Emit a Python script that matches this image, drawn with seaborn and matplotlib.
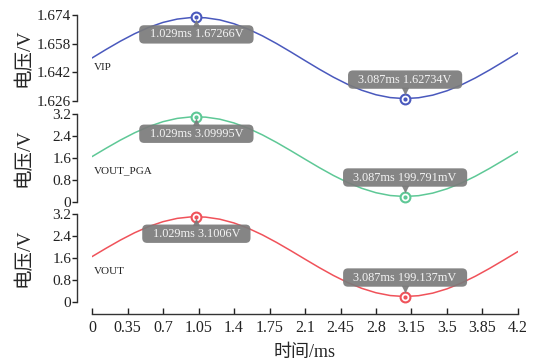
import numpy as np
import pandas as pd
import matplotlib
matplotlib.use("Agg")
import matplotlib.pyplot as plt
from matplotlib.transforms import ScaledTranslation
from matplotlib.patches import BoxStyle
import seaborn as sns

# ---- data ----
t_ms = [0.00, 0.14, 0.28, 0.42, 0.56, 0.70, 0.84, 0.98, 1.12, 1.26, 1.40,
        1.54, 1.68, 1.82, 1.96, 2.10, 2.24, 2.38, 2.52, 2.66, 2.80, 2.94,
        3.08, 3.22, 3.36, 3.50, 3.64, 3.78, 3.92, 4.06, 4.20]
vip = [1.65000, 1.65481, 1.65939, 1.66355, 1.66710, 1.66986, 1.67172, 1.67260,
       1.67244, 1.67127, 1.66912, 1.66611, 1.66236, 1.65805, 1.65338, 1.64855,
       1.64379, 1.63930, 1.63531, 1.63199, 1.62948, 1.62791, 1.62734, 1.62781,
       1.62928, 1.63170, 1.63495, 1.63888, 1.64332, 1.64806, 1.65290]
vout_pga = [1.650, 1.957, 2.251, 2.517, 2.744, 2.921, 3.040, 3.096, 3.086, 3.011,
            2.874, 2.681, 2.441, 2.165, 1.866, 1.557, 1.252, 0.965, 0.710, 0.497,
            0.337, 0.236, 0.200, 0.230, 0.324, 0.479, 0.686, 0.938, 1.222, 1.526,
            1.835]
vout = [1.650, 1.957, 2.251, 2.518, 2.745, 2.921, 3.041, 3.097, 3.087, 3.011,
        2.874, 2.681, 2.441, 2.165, 1.866, 1.557, 1.252, 0.965, 0.709, 0.496,
        0.336, 0.235, 0.199, 0.229, 0.323, 0.478, 0.686, 0.938, 1.222, 1.526,
        1.836]

peak_t = [1.029, 3.087]
vip_peaks = [1.67266, 1.62734]
pga_peaks = [3.09995, 0.199791]
vout_peaks = [3.1006, 0.199137]
peak_labels_vip = ["1.029ms 1.67266V", "3.087ms 1.62734V"]
peak_labels_pga = ["1.029ms 3.09995V", "3.087ms 199.791mV"]
peak_labels_vout = ["1.029ms 3.1006V", "3.087ms 199.137mV"]

series_names = ["VIP", "VOUT_PGA", "VOUT"]
x_ticks = [0, 0.35, 0.7, 1.05, 1.4, 1.75, 2.1, 2.45, 2.8, 3.15, 3.5, 3.85, 4.2]
x_tick_labels = ["0", "0.35", "0.7", "1.05", "1.4", "1.75", "2.1", "2.45",
                 "2.8", "3.15", "3.5", "3.85", "4.2"]
y_ticks_vip = [1.626, 1.642, 1.658, 1.674]
y_ticks_v = [0, 0.8, 1.6, 2.4, 3.2]
y_tick_labels_v = ["0", "0.8", "1.6", "2.4", "3.2"]

# ---- style ----
sns.set_style("ticks")
plt.rcParams['font.family'] = ['Liberation Serif', 'Noto Sans CJK SC']
plt.rcParams['axes.unicode_minus'] = False

PX = 72 / 100  # points per pixel at dpi 100


def tip_box(x0, y0, width, height, mutation_size):
    """Rounded box with wider horizontal than vertical padding."""
    ph, pv = 0.85 * mutation_size, 0.26 * mutation_size
    return BoxStyle.Round(pad=0, rounding_size=0.4)(
        x0 - ph, y0 - pv, width + 2 * ph, height + 2 * pv, mutation_size)


fig = plt.figure(figsize=(5.44, 3.62), dpi=100)
left, width = 92 / 544, 426 / 544
boxes = [(15, 101), (114, 202), (214, 302)]
axes = []
for top, bot in boxes:
    axes.append(fig.add_axes([left, 1 - bot / 362, width, (bot - top) / 362]))

colors = ["#4a59bd", "#5ec896", "#f0525a"]
ys = [vip, vout_pga, vout]
peaks = [vip_peaks, pga_peaks, vout_peaks]
plabels = [peak_labels_vip, peak_labels_pga, peak_labels_vout]
ylims = [(1.626, 1.674), (0, 3.2), (0, 3.2)]
name_y = [0.384, 0.35, 0.35]
box_gray = "#7b7b7b"

for i, ax in enumerate(axes):
    df = pd.DataFrame({"t": t_ms, "v": ys[i]})
    sns.lineplot(data=df, x="t", y="v", ax=ax, color=colors[i], linewidth=1.1)
    pk = pd.DataFrame({"t": peak_t, "v": peaks[i]})
    sns.scatterplot(data=pk, x="t", y="v", ax=ax, s=50, facecolor="white",
                    edgecolor=colors[i], linewidth=1.5, zorder=5, clip_on=False)
    sns.scatterplot(data=pk, x="t", y="v", ax=ax, s=9, color=colors[i],
                    edgecolor=colors[i], linewidth=0, zorder=6, clip_on=False)
    # annotation boxes
    for j, (tt, vv) in enumerate(zip(peak_t, peaks[i])):
        dy = -17 if j == 0 else 19
        ax.annotate(plabels[i][j], xy=(tt, vv), xytext=(0, dy),
                    textcoords="offset pixels", ha="center", va="center",
                    fontsize=8.8, color="#f4f4f4", zorder=8,
                    bbox=dict(boxstyle=tip_box, fc=box_gray, ec="none",
                              alpha=0.92))
        tri_dy = -5.5 if j == 0 else 7.5
        tr = ax.transData + ScaledTranslation(0, tri_dy / 100, fig.dpi_scale_trans)
        ax.scatter([tt], [vv], marker="^" if j == 0 else "v", s=30,
                   color=box_gray, alpha=0.92, linewidths=0, transform=tr,
                   zorder=7, clip_on=False)
    ax.text(0.005, name_y[i], series_names[i], transform=ax.transAxes,
            ha="left", va="center", fontsize=8, color="#222222")

    ax.set_xlim(0, 4.2)
    ax.set_ylim(*ylims[i])
    ax.set_xlabel("")
    ax.set_ylabel("电压/V", fontsize=14)
    ax.yaxis.set_label_coords(-0.1385, 0.5)
    for sp in ["top", "right"]:
        ax.spines[sp].set_visible(False)
    ax.spines["left"].set_position(("outward", 15 * PX))
    ax.tick_params(axis="y", direction="out", length=5 * PX, width=1,
                   labelsize=11, pad=0.5, colors="#222222")
    if i == 0:
        ax.set_yticks(y_ticks_vip)
        ax.set_yticklabels([f"{v:.3f}" for v in y_ticks_vip])
    else:
        ax.set_yticks(y_ticks_v)
        ax.set_yticklabels(y_tick_labels_v)
    if i < 2:
        ax.spines["bottom"].set_visible(False)
        ax.set_xticks([])
    else:
        ax.spines["bottom"].set_position(("outward", 12 * PX))
        ax.set_xticks(x_ticks)
        ax.set_xticklabels(x_tick_labels)
        ax.tick_params(axis="x", direction="in", length=6 * PX, width=1,
                       labelsize=11.5, pad=4, colors="#222222")
        ax.set_xlabel("时间/ms", fontsize=13, labelpad=6)
    for sp in ["left", "bottom"]:
        ax.spines[sp].set_color("#333333")
        ax.spines[sp].set_linewidth(1.0)

fig.savefig("out.png", dpi=100)
